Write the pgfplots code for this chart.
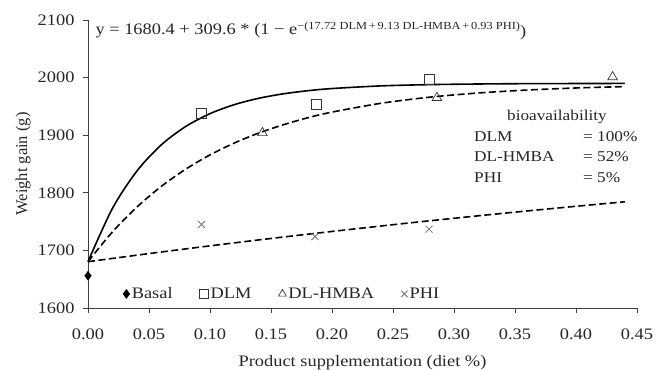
\documentclass[border=0pt]{standalone}
\usepackage{fontspec}
\setmainfont{Liberation Serif}[FakeStretch=1.15]
\newfontfamily\plainserif{Liberation Serif}
\usepackage{pgfplots}
\pgfplotsset{compat=1.18}
\begin{document}
\begin{tikzpicture}
\begin{axis}[
  scale only axis, width=549pt, height=288pt,
  xmin=0, xmax=0.45, ymin=1600, ymax=2100,
  axis x line=bottom, axis y line=left,
  axis line style={-, line width=0.8pt, black!75},
  xtick={0,0.05,0.10,0.15,0.20,0.25,0.30,0.35,0.40,0.45},
  ytick={1600,1700,1800,1900,2000,2100},
  tick align=outside, major tick length=5pt,
  tick style={black!75, line width=0.8pt},
  /pgf/number format/assume math mode=true,
  xticklabel style={/pgf/number format/.cd, fixed, fixed zerofill, precision=2, /tikz/.cd, yshift=-12pt},
  yticklabel style={/pgf/number format/1000 sep={}, xshift=-5pt},
  ticklabel style={font=\fontsize{16}{16}\selectfont, text=black!85},
  xlabel={Product supplementation (diet \%)},
  xlabel style={font=\fontsize{16}{16}\selectfont, text=black!85, yshift=-9pt},
  ylabel={Weight gain (g)},
  ylabel style={font=\plainserif\fontsize{16.5}{16.5}\selectfont, text=black!85, yshift=0pt},
  clip=false,
  legend columns=4,
  legend style={at={(0.058,0.049)}, anchor=west, draw=none, fill=none,
    font=\fontsize{16}{16}\selectfont, text=black!85,
    /tikz/every even column/.append style={column sep=25pt}},
  legend image code/.code={\draw[#1, mark size=4.5pt] plot coordinates {(0.12cm,0cm)};},
]
% fitted curves
\addplot[forget plot, black, line width=1.6pt, smooth] coordinates {
(0,1680.4)(0.02,1772.8)(0.04,1837.6)(0.06,1883.1)(0.08,1915.0)(0.10,1937.4)(0.12,1953.1)(0.14,1964.1)(0.16,1971.8)(0.18,1977.2)(0.20,1981.0)(0.24,1985.6)(0.28,1987.8)(0.32,1988.9)(0.36,1989.5)(0.40,1989.7)(0.44,1989.9)};
\addplot[forget plot, black, line width=1.6pt, dash pattern=on 7pt off 3.5pt, smooth] coordinates {
(0,1680.4)(0.02,1732.1)(0.04,1775.1)(0.06,1811.0)(0.08,1840.9)(0.10,1865.8)(0.12,1886.5)(0.14,1903.8)(0.16,1918.1)(0.18,1930.2)(0.20,1940.1)(0.24,1955.4)(0.28,1966.0)(0.32,1973.3)(0.36,1978.4)(0.40,1982.0)(0.44,1984.4)};
\addplot[forget plot, black, line width=1.6pt, dash pattern=on 7pt off 3.5pt, smooth] coordinates {
(0,1680.4)(0.04,1691.7)(0.08,1702.6)(0.12,1713.1)(0.16,1723.2)(0.20,1732.9)(0.24,1742.3)(0.28,1751.4)(0.32,1760.1)(0.36,1768.5)(0.40,1776.6)(0.44,1784.4)};
% observed
\addplot[only marks, mark=diamond*, mark size=4.5pt, black] coordinates {(0,1656)};
\addlegendentry{Basal}
\addplot[only marks, mark=square, mark size=5pt, black!80, line width=0.7pt] coordinates {(0.093,1938)(0.187,1954)(0.2795,1997)};
\addlegendentry{DLM}
\addplot[only marks, mark=triangle, mark size=5.5pt, black!80, line width=0.7pt] coordinates {(0.143,1904)(0.286,1965)(0.430,2001)};
\addlegendentry{DL-HMBA}
\addplot[only marks, mark=x, mark size=5pt, black!55, line width=0.8pt] coordinates {(0.093,1745)(0.186,1724)(0.2795,1737)};
\addlegendentry{PHI}
% annotations
\node[anchor=west, inner sep=0pt, font=\fontsize{16}{16}\selectfont, text=black!85] at (axis cs:0.006,2081)
  {y = 1680.4 + 309.6 * (1 − e\raisebox{0.75ex}{\fontsize{10.8}{10.8}\selectfont −(17.72 DLM\,+\,9.13 DL-HMBA\,+\,0.93 PHI)}\raisebox{-0.3ex}{)}};
\node[font=\fontsize{15}{15}\selectfont, text=black!85] at (axis cs:0.3844,1931.6) {bioavailability};
\node[anchor=west, inner sep=0pt, font=\fontsize{15}{15}\selectfont, text=black!85] at (axis cs:0.3164,1896.9) {DLM};
\node[anchor=west, inner sep=0pt, font=\fontsize{15}{15}\selectfont, text=black!85] at (axis cs:0.4057,1896.9) {= 100\%};
\node[anchor=west, inner sep=0pt, font=\fontsize{15}{15}\selectfont, text=black!85] at (axis cs:0.3164,1862.2) {DL-HMBA};
\node[anchor=west, inner sep=0pt, font=\fontsize{15}{15}\selectfont, text=black!85] at (axis cs:0.4057,1862.2) {= 52\%};
\node[anchor=west, inner sep=0pt, font=\fontsize{15}{15}\selectfont, text=black!85] at (axis cs:0.3164,1825.7) {PHI};
\node[anchor=west, inner sep=0pt, font=\fontsize{15}{15}\selectfont, text=black!85] at (axis cs:0.4057,1825.7) {= 5\%};
\end{axis}
\pgfresetboundingbox
\path[use as bounding box] ([xshift=-88pt,yshift=-61pt]current axis.south west) rectangle ([xshift=19pt,yshift=20pt]current axis.north east);
\end{tikzpicture}
\end{document}
